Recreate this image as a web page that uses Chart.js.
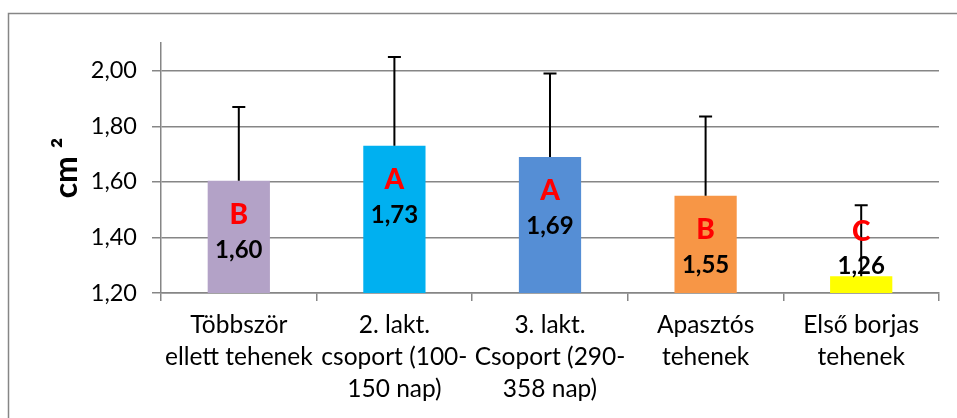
<!DOCTYPE html>
<html>
<head>
<meta charset="utf-8">
<script src="https://cdn.jsdelivr.net/npm/chart.js@4.4.1/dist/chart.umd.min.js"></script>
<style>
  html, body { margin: 0; padding: 0; background: #fff; }
  #wrap { width: 957px; height: 418px; }
</style>
</head>
<body>
<div id="wrap"><canvas id="chart" width="957" height="418"></canvas></div>
<script>
const categories = [
  ["Többször", "ellett tehenek"],
  ["2. lakt.", "csoport (100-", "150 nap)"],
  ["3. lakt.", "Csoport (290-", "358 nap)"],
  ["Apasztós", "tehenek"],
  ["Első borjas", "tehenek"]
];
const means = [1.604, 1.73, 1.69, 1.55, 1.26];
const errPlus = [0.266, 0.32, 0.30, 0.285, 0.256];
const letters = ["B", "A", "A", "B", "C"];
const barColors = ["#B3A2C7", "#00B0F0", "#558ED5", "#F79646", "#FFFF00"];
const yTicks = [1.2, 1.4, 1.6, 1.8, 2.0];

const gridColor = "#868686";
const fmt = v => v.toFixed(2).replace(".", ",");

// outer frame of the chart object
const framePlugin = {
  id: "frame",
  beforeDraw(chart) {
    const ctx = chart.ctx;
    ctx.save();
    ctx.strokeStyle = gridColor;
    ctx.lineWidth = 1.5;
    ctx.strokeRect(8.5, 13.5, 2000, 2000);
    ctx.restore();
  }
};

// error bars (plus only) + letters and values on bars
const barExtras = {
  id: "barExtras",
  afterDatasetsDraw(chart) {
    const ctx = chart.ctx;
    const y = chart.scales.y;
    const meta = chart.getDatasetMeta(0);
    const axisY = y.getPixelForValue(y.min);
    ctx.save();
    meta.data.forEach((el, i) => {
      const top = y.getPixelForValue(means[i] + errPlus[i]);
      ctx.strokeStyle = "#000";
      ctx.lineWidth = 2;
      ctx.beginPath();
      ctx.moveTo(el.x, el.y);
      ctx.lineTo(el.x, top);
      ctx.moveTo(el.x - 6.5, top);
      ctx.lineTo(el.x + 6.5, top);
      ctx.stroke();
    });
    ctx.textAlign = "center";
    ctx.textBaseline = "middle";
    meta.data.forEach((el, i) => {
      const inside = axisY - el.y > 60;
      const ly = inside ? el.y + 34 : el.y - 44;
      const vy = inside ? el.y + 69 : el.y - 10;
      ctx.fillStyle = "#FF0000";
      ctx.font = "900 28px Lato";
      ctx.fillText(letters[i], el.x, ly);
      ctx.fillStyle = "#000";
      ctx.font = "bold 24px Lato";
      ctx.fillText(fmt(means[i]), el.x, vy);
    });
    ctx.restore();
  }
};

new Chart(document.getElementById("chart"), {
  type: "bar",
  data: {
    labels: categories,
    datasets: [{
      data: means,
      backgroundColor: barColors,
      borderWidth: 0,
      barPercentage: 0.4,
      categoryPercentage: 1
    }]
  },
  options: {
    responsive: false,
    animation: false,
    layout: { padding: { left: 47, right: 18, top: 43, bottom: 0 } },
    plugins: { legend: { display: false }, tooltip: { enabled: false } },
    scales: {
      x: {
        grid: { drawOnChartArea: false, color: gridColor, lineWidth: 1.5, tickLength: 8 },
        border: { color: gridColor, width: 1.5 },
        ticks: {
          color: "#000",
          font: { family: "Lato", size: 24.5, lineHeight: 1.31 },
          maxRotation: 0,
          autoSkip: false,
          padding: 8
        },
        afterFit(scale) { scale.height = 125; }
      },
      y: {
        min: 1.2,
        max: 2.1,
        afterBuildTicks(scale) { scale.ticks = yTicks.map(v => ({ value: v })); },
        afterFit(scale) { scale.width = 114; },
        grid: { color: gridColor, lineWidth: 1.5, tickLength: 9 },
        border: { color: gridColor, width: 1.5 },
        ticks: {
          color: "#000",
          font: { family: "Lato", size: 23.5 },
          padding: 15,
          callback: v => fmt(v)
        },
        title: {
          display: true,
          text: "cm ²",
          color: "#000",
          font: { family: "Lato", size: 32, weight: "bold" },
          padding: { top: 0, bottom: 0 }
        }
      }
    }
  },
  plugins: [framePlugin, barExtras]
});
</script>
</body>
</html>
